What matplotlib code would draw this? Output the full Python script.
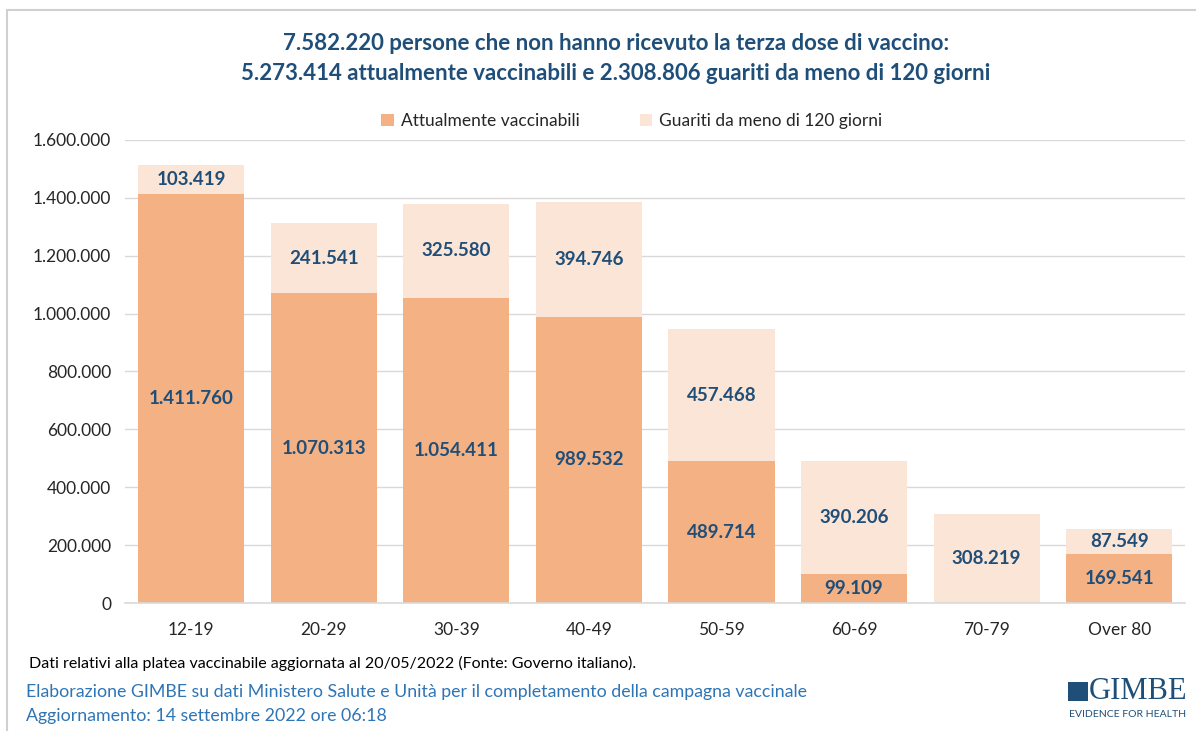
import matplotlib
matplotlib.use("agg")
import matplotlib.pyplot as plt
from matplotlib.lines import Line2D
from matplotlib.patches import Rectangle

# data
fasce = ["12-19", "20-29", "30-39", "40-49", "50-59", "60-69", "70-79", "Over 80"]
vaccinabili = [1411760, 1070313, 1054411, 989532, 489714, 99109, 0, 169541]
guariti = [103419, 241541, 325580, 394746, 457468, 390206, 308219, 87549]
yticks = [0, 200000, 400000, 600000, 800000, 1000000, 1200000, 1400000, 1600000]

COL_VACC = "#F4B183"
COL_GUAR = "#FBE5D6"
BLU = "#1F4E79"
BLU_NOTE = "#2E75B6"

plt.rcParams["font.family"] = ["Lato", "DejaVu Sans"]


def fmt(v):
    return f"{v:,}".replace(",", ".")


fig = plt.figure(figsize=(11.96, 7.31), dpi=100)
ax = fig.add_axes([0.1045, 0.1751, 0.8867, 0.6334])

x = range(len(fasce))
ax.bar(x, vaccinabili, width=0.8, color=COL_VACC, label="Attualmente vaccinabili", zorder=2)
ax.bar(x, guariti, width=0.8, bottom=vaccinabili, color=COL_GUAR,
       label="Guariti da meno di 120 giorni", zorder=2)

# etichette dei valori
for i in x:
    if vaccinabili[i] > 0:
        ax.text(i, vaccinabili[i] / 2, fmt(vaccinabili[i]), ha="center", va="center",
                color=BLU, fontsize=13.5, fontweight="bold", zorder=3)
    ax.text(i, vaccinabili[i] + guariti[i] / 2, fmt(guariti[i]), ha="center", va="center",
            color=BLU, fontsize=13.5, fontweight="bold", zorder=3)

ax.set_xlim(-0.5, len(fasce) - 0.5)
ax.set_ylim(0, 1600000)
ax.set_yticks(yticks)
ax.set_yticklabels([fmt(v) for v in yticks], fontsize=12.5, color="#262626")
ax.set_xticks(list(x))
ax.set_xticklabels(fasce, fontsize=12.5, color="#262626")
ax.tick_params(axis="both", length=0, pad=10)
ax.tick_params(axis="x", pad=14)
ax.grid(axis="y", color="#D9D9D9", linewidth=1, zorder=0)
for s in ["top", "right", "left"]:
    ax.spines[s].set_visible(False)
ax.spines["bottom"].set_color("#D9D9D9")
ax.spines["bottom"].set_linewidth(1.2)

ax.legend(loc="lower center", bbox_to_anchor=(0.478, 0.99), ncol=2, frameon=False,
          fontsize=12.5, handlelength=0.7, handleheight=0.7, columnspacing=3.5,
          handletextpad=0.4, labelcolor="#262626")

fig.text(0.515, 0.94, "7.582.220 persone che non hanno ricevuto la terza dose di vaccino:",
         ha="center", va="center", fontsize=16, fontweight="bold", color=BLU)
fig.text(0.515, 0.90, "5.273.414 attualmente vaccinabili e 2.308.806 guariti da meno di 120 giorni",
         ha="center", va="center", fontsize=16, fontweight="bold", color=BLU)

# note in basso
fig.text(0.024, 0.092, "Dati relativi alla platea vaccinabile aggiornata al 20/05/2022 (Fonte: Governo italiano).",
         ha="left", va="center", fontsize=11.5, color="black")
fig.text(0.022, 0.054, "Elaborazione GIMBE su dati Ministero Salute e Unità per il completamento della campagna vaccinale",
         ha="left", va="center", fontsize=12.8, color=BLU_NOTE)
fig.text(0.022, 0.021, "Aggiornamento: 14 settembre 2022 ore 06:18",
         ha="left", va="center", fontsize=12.8, color=BLU_NOTE)

# logo GIMBE
fig.patches.append(Rectangle((0.893, 0.041), 0.017, 0.026, transform=fig.transFigure,
                             facecolor=BLU, edgecolor="none"))
fig.text(0.9925, 0.054, "GIMBE", ha="right", va="center", fontsize=22,
         family="Liberation Serif", color=BLU)
fig.text(0.9427, 0.023, "EVIDENCE FOR HEALTH", ha="center", va="center",
         fontsize=7.5, color=BLU)

# cornice grigia
fig.lines.append(Line2D([0.006, 1.0], [0.986, 0.986], transform=fig.transFigure,
                        color="#D0D0D0", linewidth=1.5))
fig.lines.append(Line2D([0.006, 0.006], [0.0, 0.986], transform=fig.transFigure,
                        color="#D0D0D0", linewidth=1.5))

fig.savefig("out.png", dpi=100, facecolor="white")
plt.close(fig)
